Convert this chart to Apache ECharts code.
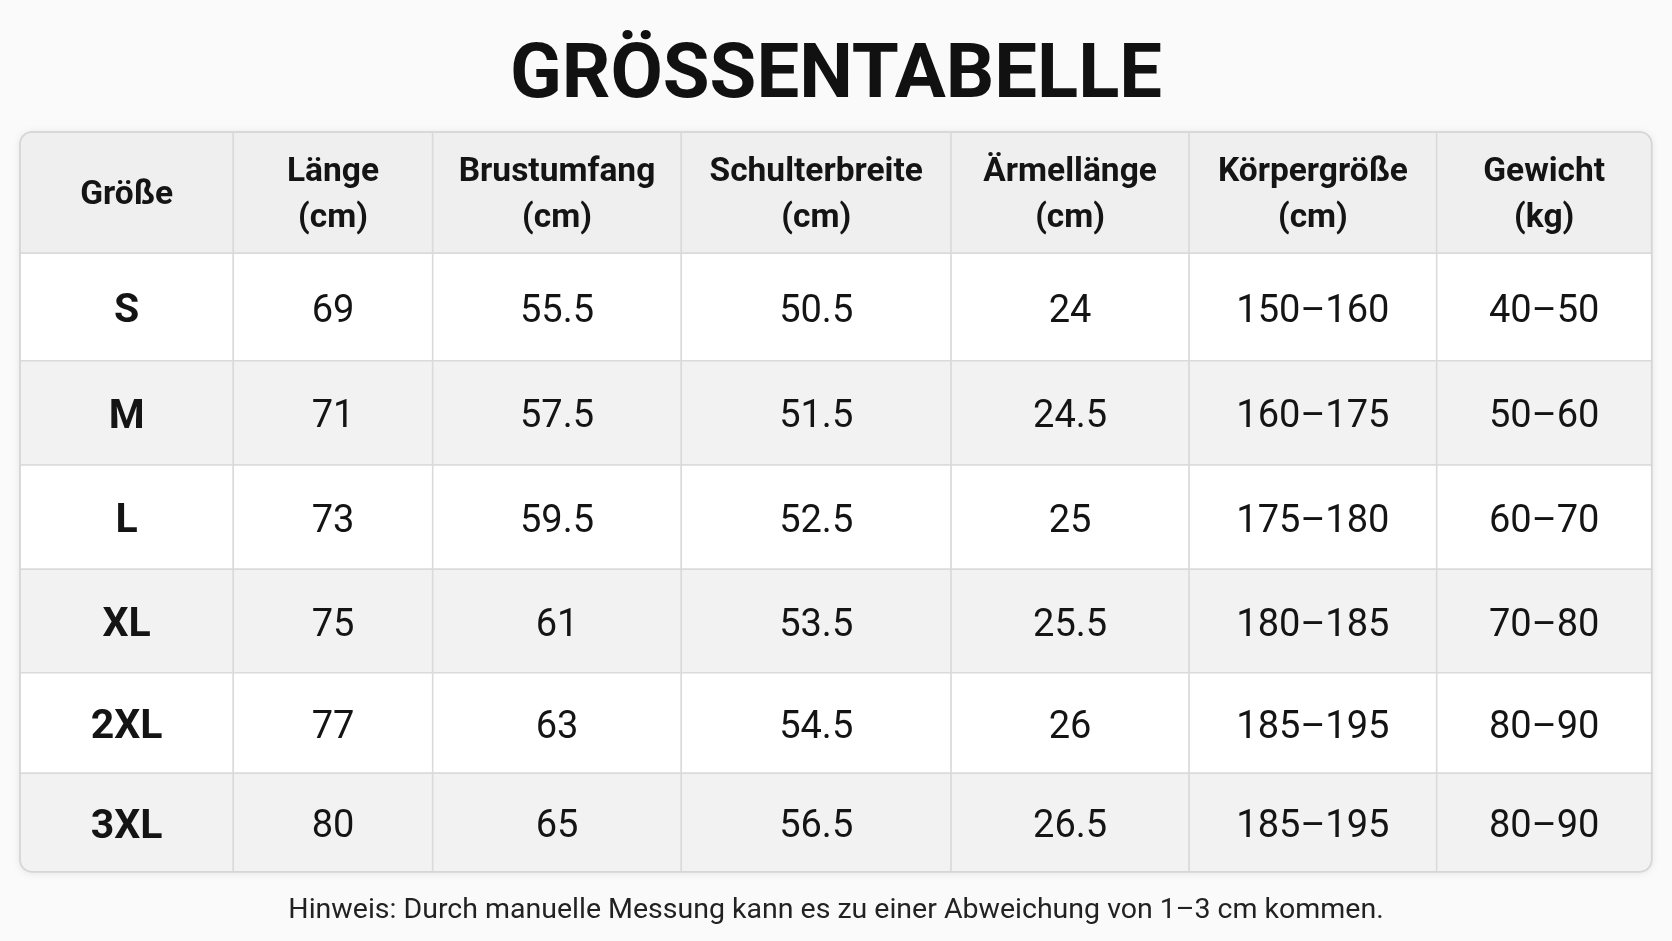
<!DOCTYPE html>
<html>
<head>
<meta charset="utf-8">
<script src="https://cdn.jsdelivr.net/npm/echarts@6/dist/echarts.min.js"></script>
<style>
  html, body { margin: 0; padding: 0; background: #fafafa; }
  #main { width: 1672px; height: 941px; }
</style>
</head>
<body>
<div id="main"></div>
<script>
// ---- data ----
const chartTitle = 'GRÖSSENTABELLE';
const footNote = 'Hinweis: Durch manuelle Messung kann es zu einer Abweichung von 1–3 cm kommen.';
const headers = ['Größe', 'Länge\n(cm)', 'Brustumfang\n(cm)', 'Schulterbreite\n(cm)', 'Ärmellänge\n(cm)', 'Körpergröße\n(cm)', 'Gewicht\n(kg)'];
const sizes = ['S', 'M', 'L', 'XL', '2XL', '3XL'];
const laenge = ['69', '71', '73', '75', '77', '80'];
const brustumfang = ['55.5', '57.5', '59.5', '61', '63', '65'];
const schulterbreite = ['50.5', '51.5', '52.5', '53.5', '54.5', '56.5'];
const aermellaenge = ['24', '24.5', '25', '25.5', '26', '26.5'];
const koerpergroesse = ['150–160', '160–175', '175–180', '180–185', '185–195', '185–195'];
const gewicht = ['40–50', '50–60', '60–70', '70–80', '80–90', '80–90'];

// ---- layout (page units) ----
const colEdges = [20, 233.3, 432.7, 681.3, 951.1, 1189.1, 1436.7, 1651.7];
const rowEdges = [132, 253.3, 360.7, 465, 569.3, 672.7, 773.3, 871.7];
const RADIUS = 12;

const columns = [sizes, laenge, brustumfang, schulterbreite, aermellaenge, koerpergroesse, gewicht];
const nCols = columns.length;
const nRows = sizes.length + 1;

// cells: [col, row, text]
const cells = [];
headers.forEach((h, c) => cells.push([c, 0, h]));
sizes.forEach((s, r) => {
  columns.forEach((col, c) => cells.push([c, r + 1, col[r]]));
});

const chart = echarts.init(document.getElementById('main'), null, { renderer: 'canvas' });

function cornerRadii(c, r) {
  const tl = (c === 0 && r === 0) ? RADIUS : 0;
  const tr = (c === nCols - 1 && r === 0) ? RADIUS : 0;
  const br = (c === nCols - 1 && r === nRows - 1) ? RADIUS : 0;
  const bl = (c === 0 && r === nRows - 1) ? RADIUS : 0;
  return [tl, tr, br, bl];
}

const option = {
  backgroundColor: '#fafafa',
  animation: false,
  title: [
    {
      text: chartTitle,
      left: 'center',
      top: 35,
      textStyle: { fontFamily: 'Roboto', fontSize: 76, fontWeight: 'bold', color: '#111111' }
    },
    {
      text: footNote,
      left: 'center',
      top: 891,
      textStyle: { fontFamily: 'Roboto', fontSize: 28.5, fontWeight: 'normal', color: '#222222' }
    }
  ],
  grid: { left: 0, right: 0, top: 0, bottom: 0 },
  xAxis: { type: 'value', min: 0, max: 1672, show: false },
  yAxis: { type: 'value', min: 0, max: 941, inverse: true, show: false },
  series: [
    {
      type: 'custom',
      z: 1,
      silent: true,
      data: [[0]],
      renderItem: function (params, api) {
        const p0 = api.coord([colEdges[0], rowEdges[0]]);
        const p1 = api.coord([colEdges[colEdges.length - 1], rowEdges[rowEdges.length - 1]]);
        return {
          type: 'rect',
          shape: { x: p0[0], y: p0[1], width: p1[0] - p0[0], height: p1[1] - p0[1], r: RADIUS },
          style: { fill: '#ffffff', shadowBlur: 8, shadowColor: 'rgba(0,0,0,0.10)', shadowOffsetY: 1 }
        };
      }
    },
    {
      type: 'custom',
      z: 2,
      silent: true,
      data: cells,
      renderItem: function (params, api) {
        const c = api.value(0);
        const r = api.value(1);
        const text = cells[params.dataIndex][2];
        const p0 = api.coord([colEdges[c], rowEdges[r]]);
        const p1 = api.coord([colEdges[c + 1], rowEdges[r + 1]]);
        const isHeader = r === 0;
        const fill = isHeader ? '#efefef' : (r % 2 === 0 ? '#f2f2f2' : '#ffffff');
        const bold = isHeader || c === 0;
        const fs = isHeader ? 33.5 : (c === 0 ? 41 : 38);
        return {
          type: 'group',
          children: [
            {
              type: 'rect',
              shape: { x: p0[0], y: p0[1], width: p1[0] - p0[0], height: p1[1] - p0[1], r: cornerRadii(c, r) },
              style: { fill: fill, stroke: '#dadada', lineWidth: 1.5 }
            },
            {
              type: 'text',
              style: {
                x: (p0[0] + p1[0]) / 2,
                y: (p0[1] + p1[1]) / 2 + (isHeader ? 3 : 5),
                text: text,
                align: 'center',
                verticalAlign: 'middle',
                fontFamily: 'Roboto',
                fontSize: fs,
                fontWeight: bold ? 'bold' : 'normal',
                lineHeight: isHeader ? 46 : 46,
                fill: '#141414'
              }
            }
          ]
        };
      }
    },
    {
      type: 'custom',
      z: 3,
      silent: true,
      data: [[0]],
      renderItem: function (params, api) {
        const p0 = api.coord([colEdges[0], rowEdges[0]]);
        const p1 = api.coord([colEdges[colEdges.length - 1], rowEdges[rowEdges.length - 1]]);
        return {
          type: 'rect',
          shape: { x: p0[0], y: p0[1], width: p1[0] - p0[0], height: p1[1] - p0[1], r: RADIUS },
          style: { fill: 'none', stroke: '#d6d6d6', lineWidth: 1.5 }
        };
      }
    }
  ]
};
chart.setOption(option);
</script>
</body>
</html>
